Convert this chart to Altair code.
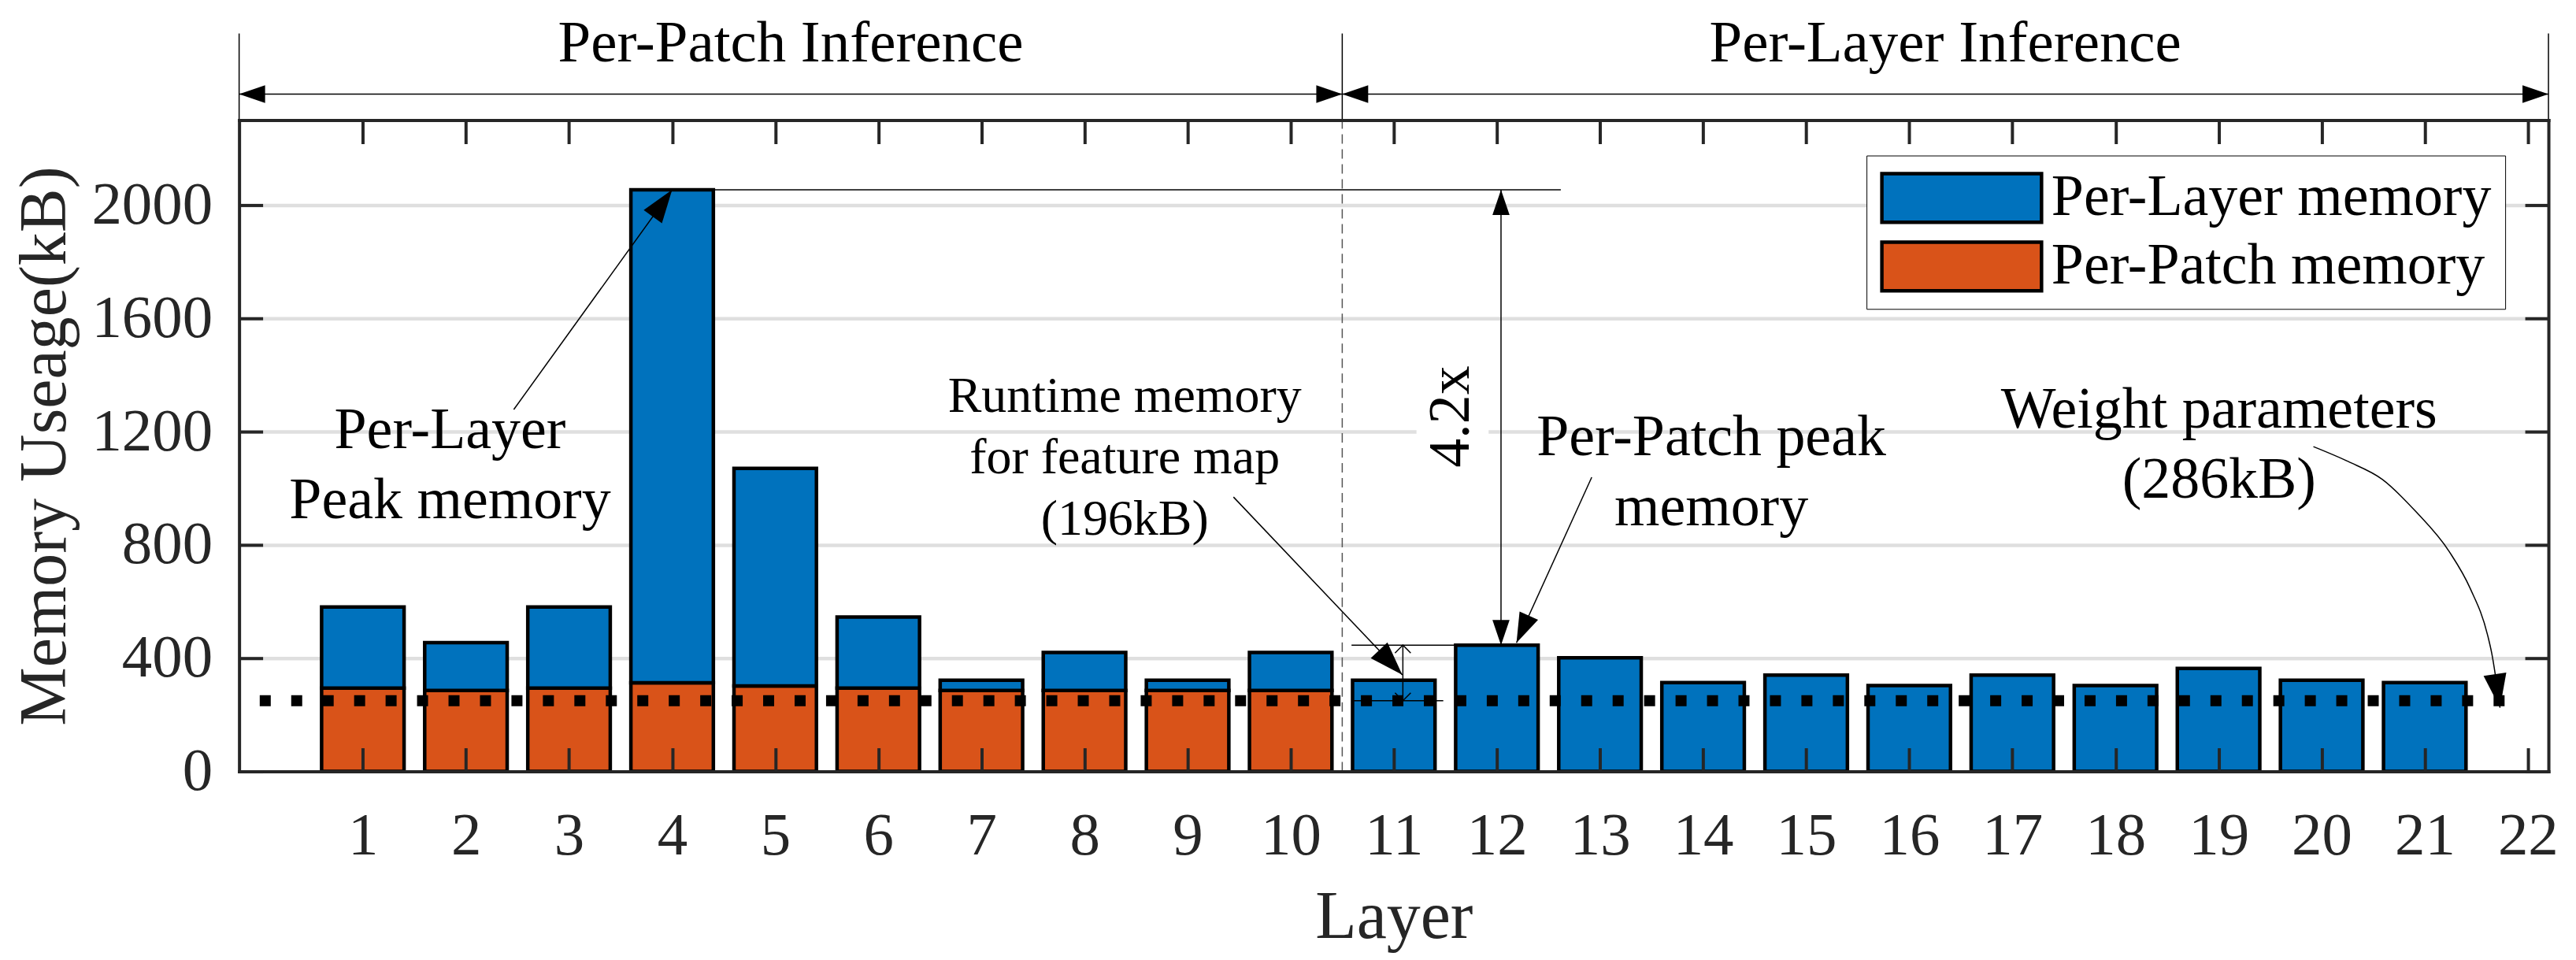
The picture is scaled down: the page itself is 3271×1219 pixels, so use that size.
import math
import altair as alt
import pandas as pd

# ---------------- data ----------------
layers = list(range(1, 22))
per_layer_kb = [581, 455, 581, 2054, 1070, 545, 322, 420, 322, 420,
                322, 446, 401, 314, 340, 303, 340, 303, 364, 322, 314]
per_patch_kb = [294, 286, 294, 313, 302, 294, 286, 286, 286, 286]  # layers 1-10
series_names = ["Per-Layer memory", "Per-Patch memory"]
series_colors = ["#0072BD", "#D95319"]
x_tick_values = list(range(1, 23))
y_tick_values = [0, 400, 800, 1200, 1600, 2000]
y_grid_values = [400, 800, 1200, 1600, 2000]
weight_kb = 250
weight_span = [0, 21.8]
x_domain = [-0.2, 22.2]
y_domain = [0, 2300]
split_x = 10.5
bar_half = 0.4

# annotation anchor points (data coordinates)
region_labels = ["Per-Patch Inference", "Per-Layer Inference"]
region_label_x = [5.15, 16.35]
region_label_y = 2506
region_arrow_y = 2392
region_line_top = 2606

note_texts = ["Per-Layer\nPeak memory", "Per-Patch peak\nmemory", "Weight parameters\n(286kB)"]
note_x = [1.846, 14.08, 19.005]
note_y = [1142, 1117, 1214]
runtime_text = "Runtime memory\nfor feature map\n(196kB)"
runtime_xy = [8.39, 1269]
ratio_text = "4.2x"
ratio_xy = [11.56, 1253]
ratio_box = [11.22, 11.92, 1078, 1428]

# straight thin lines: (x, y, x2, y2)
thin_lines = [
    (-0.2, region_arrow_y, split_x, region_arrow_y),
    (split_x, region_arrow_y, 22.2, region_arrow_y),
    (-0.2, 2300, -0.2, region_line_top),
    (split_x, 2300, split_x, region_line_top),
    (22.2, 2300, 22.2, region_line_top),
    (4.0, 2054, 12.62, 2054),
    (12.04, 446, 12.04, 2054),
    (2.464, 1278, 4.0, 2054),
    (9.445, 969, 11.083, 341),
    (12.92, 1039, 12.19, 454),
    (10.59, 446, 12.41, 446),
    (10.59, 250, 11.48, 250),
    (11.088, 250, 11.088, 446),
]
# curved pointer to the weight line
curve_x = [19.92, 20.26, 20.59, 20.91, 21.24, 21.44, 21.61, 21.65, 21.73]
curve_y = [1147, 1094, 1031, 919, 775, 647, 481, 417, 225]

# filled arrow heads: tip, a point behind the tip, length(px)
heads = [
    ((-0.2, region_arrow_y), (0.5, region_arrow_y), 33),
    ((split_x, region_arrow_y), (9.8, region_arrow_y), 33),
    ((split_x, region_arrow_y), (11.2, region_arrow_y), 33),
    ((22.2, region_arrow_y), (21.5, region_arrow_y), 33),
    ((4.0, 2054), (2.464, 1278), 42),
    ((12.04, 2054), (12.04, 446), 32),
    ((12.04, 446), (12.04, 2054), 32),
    ((11.083, 341), (9.445, 969), 43),
    ((12.19, 454), (12.92, 1039), 38),
    ((21.73, 225), (21.65, 417), 43),
]
open_heads = [
    ((11.088, 446), (11.088, 250), 10),
    ((11.088, 250), (11.088, 446), 10),
]

# ---------------- chart ----------------
W, H = 2936, 828
F = "Liberation Serif"
AX = "#262626"
px_x = W / (x_domain[1] - x_domain[0])
px_y = H / (y_domain[1] - y_domain[0])

xs = alt.Scale(domain=x_domain, nice=False, zero=False)
ys = alt.Scale(domain=y_domain, nice=False, zero=False)


def ax(**kw):
    base = dict(title=None, grid=False, labels=False, ticks=False, domain=False, zindex=1)
    base.update(kw)
    return alt.Axis(**base)


tick_kw = dict(ticks=True, tickSize=30, tickWidth=4, tickColor=AX)


def X(field, axis=None, title=None):
    return alt.X(field, type="quantitative", scale=xs, axis=axis, title=title)


def Y(field, axis=None, title=None):
    return alt.Y(field, type="quantitative", scale=ys, axis=axis, title=title)


rows = []
for i, (l, tot) in enumerate(zip(layers, per_layer_kb)):
    patch = per_patch_kb[i] if i < len(per_patch_kb) else 0
    if patch:
        rows.append(dict(layer=l, series=series_names[1], y0=0, y1=patch))
    rows.append(dict(layer=l, series=series_names[0], y0=patch, y1=tot))
bars_df = pd.DataFrame(rows)

x_label_axis = ax(orient="bottom", values=x_tick_values, labels=True, labelFont=F,
                  labelFontSize=77, labelColor=AX, labelPadding=44, tickSize=0,
                  labelFlush=False, labelOverlap=False, domain=True, domainColor=AX,
                  domainWidth=4, domainCap="square", title="Layer", titleFont=F,
                  titleFontSize=86, titleFontWeight="normal", titleColor=AX,
                  titleX=W / 2, titleY=211, titleBaseline="alphabetic", titleAlign="center",
                  format="d")
y_label_axis = ax(orient="left", values=y_tick_values, labels=True, labelFont=F,
                  labelFontSize=77, labelColor=AX, labelPadding=34, tickSize=0,
                  domain=True, domainColor=AX, domainWidth=4, domainCap="square",
                  title="Memory Useage(kB)", titleFont=F, titleFontSize=84,
                  titleFontWeight="normal", titleColor=AX, titleAngle=270,
                  titleX=-246, titleY=H / 2, titleBaseline="middle", titleAlign="center",
                  format="d")

legend = alt.Legend(orient="none", legendX=2069, legendY=45, direction="vertical",
                    title=None, padding=17, strokeColor="black", fillColor="white",
                    labelFont=F, labelFontSize=74, labelColor="black", labelLimit=1200,
                    labelOffset=10, rowPadding=13, clipHeight=74,
                    symbolType="M-1,-0.305H1V0.305H-1Z", symbolSize=41209,
                    symbolStrokeColor="black", symbolStrokeWidth=4.5, symbolOpacity=1)

bars = alt.Chart(bars_df).transform_calculate(
    x0=f"datum.layer - {bar_half}", x1=f"datum.layer + {bar_half}"
).mark_rect(stroke="black", strokeWidth=4.5).encode(
    x=X("x0", x_label_axis, "Layer"),
    x2="x1:Q",
    y=Y("y0", y_label_axis, "Memory Useage(kB)"),
    y2="y1:Q",
    color=alt.Color("series:N", scale=alt.Scale(domain=series_names, range=series_colors),
                    legend=legend),
)

# grid (behind everything) carried by the dashed split line
split_df = pd.DataFrame([dict(x=split_x, y=y_domain[0], y2=y_domain[1])])
grid_axis = alt.Axis(orient="left", values=y_grid_values, grid=True, gridColor="#dfdfdf",
                     gridWidth=4.5, labels=False, ticks=False, domain=False, title=None, zindex=0)
split_line = alt.Chart(split_df).mark_rule(color="#555555", strokeWidth=1.5,
                                           strokeDash=[12, 7]).encode(
    x=X("x"), y=Y("y", grid_axis), y2="y2:Q")

# weight level dotted line: carries inward ticks on bottom and left edges
weight_df = pd.DataFrame([dict(x=weight_span[0], x2=weight_span[1], y=weight_kb)])
weight_line = alt.Chart(weight_df).mark_rule(color="black", strokeWidth=14,
                                             strokeDash=[14, 26], strokeCap="butt").encode(
    x=X("x", ax(orient="top", offset=-H, values=x_tick_values, **tick_kw)),
    x2="x2:Q",
    y=Y("y", ax(orient="right", offset=-W, values=y_tick_values, **tick_kw)),
)

# thin lines: carry inward ticks + box on top and right edges
lines_df = pd.DataFrame(thin_lines, columns=["x", "y", "x2", "y2"])
thin = alt.Chart(lines_df).mark_rule(color="black", strokeWidth=1.5).encode(
    x=X("x", ax(orient="bottom", offset=-H, values=x_tick_values, domain=True,
                domainColor=AX, domainWidth=4, domainCap="square", **tick_kw)),
    x2="x2:Q",
    y=Y("y", ax(orient="left", offset=-W, values=y_tick_values, domain=True,
                domainColor=AX, domainWidth=4, domainCap="square", **tick_kw)),
    y2="y2:Q",
)

curve_df = pd.DataFrame(dict(x=curve_x, y=curve_y))
curve = alt.Chart(curve_df).mark_line(color="black", strokeWidth=1.5,
                                      interpolate="monotone").encode(
    x=X("x"), y=Y("y"))


def head_rows(spec):
    out = []
    for (tx, ty), (bx, by), L in spec:
        dx = (tx - bx) * px_x
        dy = (ty - by) * px_y
        ang = math.degrees(math.atan2(dx, dy)) % 360
        out.append(dict(x=tx, y=ty, angle=ang, size=(2 * L) ** 2))
    return pd.DataFrame(out)


heads_chart = alt.Chart(head_rows(heads)).mark_point(
    shape="M0,0L-0.34,1L0.34,1Z", filled=True, color="black", opacity=1, strokeWidth=0
).encode(x=X("x"), y=Y("y"), angle=alt.Angle("angle:Q", scale=None),
         size=alt.Size("size:Q", scale=None))

open_chart = alt.Chart(head_rows(open_heads)).mark_point(
    shape="M-1,1L0,0L1,1", filled=False, color="black", opacity=1, strokeWidth=1.5
).encode(x=X("x"), y=Y("y"), angle=alt.Angle("angle:Q", scale=None),
         size=alt.Size("size:Q", scale=None))

box_df = pd.DataFrame([dict(x=ratio_box[0], x2=ratio_box[1], y=ratio_box[2], y2=ratio_box[3])])
ratio_bg = alt.Chart(box_df).mark_rect(color="white").encode(
    x=X("x"), x2="x2:Q", y=Y("y"), y2="y2:Q")

region_df = pd.DataFrame(dict(x=region_label_x, y=[region_label_y] * 2, t=region_labels))
region_text = alt.Chart(region_df).mark_text(font=F, fontSize=75, color="black",
                                             align="center", baseline="alphabetic").encode(
    x=X("x"), y=Y("y"), text="t:N")

notes_df = pd.DataFrame(dict(x=note_x, y=note_y, t=note_texts))
notes_text = alt.Chart(notes_df).mark_text(font=F, fontSize=74, lineHeight=89, color="black",
                                           align="center", baseline="alphabetic",
                                           lineBreak="\n").encode(
    x=X("x"), y=Y("y"), text="t:N")

runtime_df = pd.DataFrame([dict(x=runtime_xy[0], y=runtime_xy[1], t=runtime_text)])
runtime_chart = alt.Chart(runtime_df).mark_text(font=F, fontSize=64, lineHeight=78,
                                                color="black", align="center",
                                                baseline="alphabetic", lineBreak="\n").encode(
    x=X("x"), y=Y("y"), text="t:N")

ratio_df = pd.DataFrame([dict(x=ratio_xy[0], y=ratio_xy[1], t=ratio_text)])
ratio_chart = alt.Chart(ratio_df).mark_text(font=F, fontSize=74, color="black", angle=270,
                                            align="center", baseline="middle").encode(
    x=X("x"), y=Y("y"), text="t:N")

chart = alt.layer(
    split_line, ratio_bg, bars, weight_line, thin, curve, heads_chart, open_chart,
    region_text, notes_text, runtime_chart, ratio_chart,
).resolve_axis(x="independent", y="independent").properties(
    width=W, height=H,
    autosize=alt.AutoSizeParams(type="none"),
    padding={"left": 296, "top": 144, "right": 27, "bottom": 231},
).configure_view(stroke=None).configure(font=F, background="white")

chart.save("out.html", embed_options={"renderer": "svg", "actions": False})
